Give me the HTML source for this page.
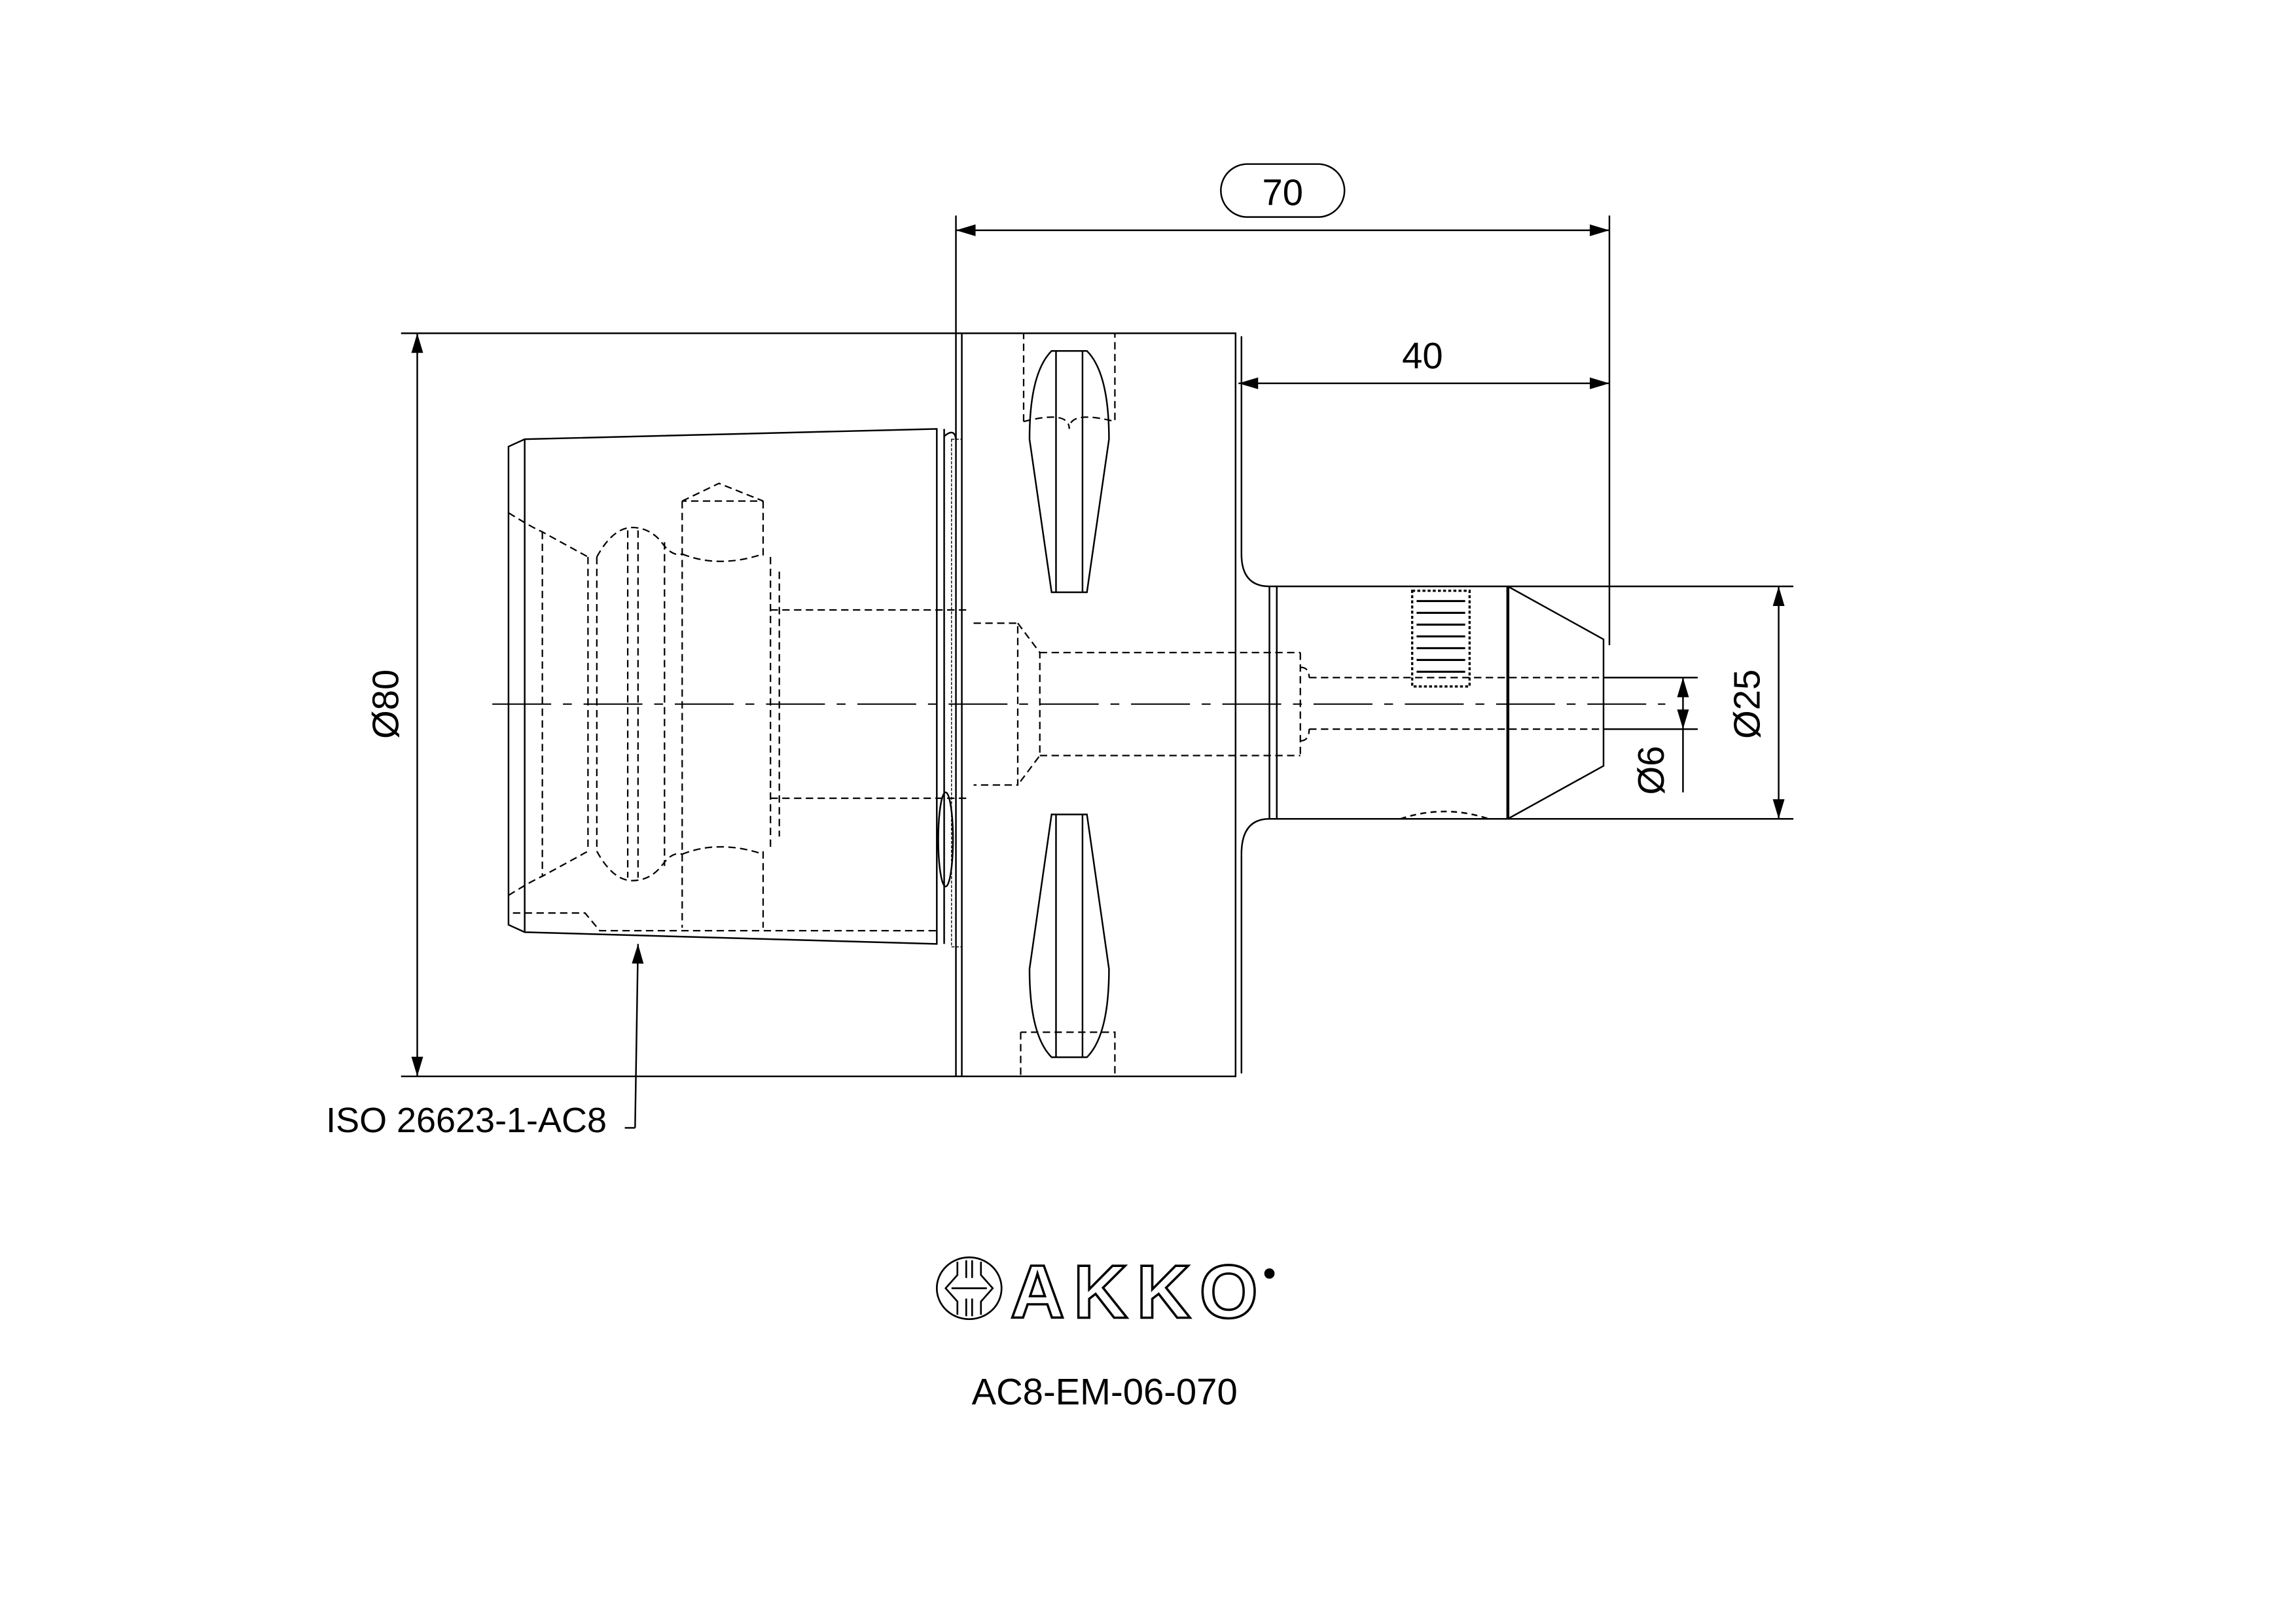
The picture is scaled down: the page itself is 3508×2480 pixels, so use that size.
<!DOCTYPE html>
<html><head><meta charset="utf-8"><style>html,body{margin:0;padding:0;background:#fff}svg{display:block}</style></head>
<body>
<svg width="3508" height="2480" viewBox="0 0 1560 1103" preserveAspectRatio="none" xmlns="http://www.w3.org/2000/svg">
<defs>
<marker id="a" viewBox="0 0 10 6" refX="10" refY="3" markerWidth="14" markerHeight="8" markerUnits="userSpaceOnUse" orient="auto-start-reverse"><path d="M0,0L10,3L0,6Z" fill="#000"/></marker>
</defs>
<rect width="1560" height="1103" fill="#fff"/>
<g transform="translate(-3.5,-1.5)">
<g fill="none" stroke="#000" stroke-width="1.1">
<line x1="653" y1="148" x2="653" y2="228"/>
<line x1="1097" y1="148" x2="1097" y2="440"/>
<line x1="653" y1="158" x2="1097" y2="158" marker-start="url(#a)" marker-end="url(#a)"/>
<rect x="833" y="113" width="84" height="36" rx="18"/>
<line x1="845" y1="262" x2="1097" y2="262" marker-start="url(#a)" marker-end="url(#a)"/>
<line x1="276" y1="228" x2="653" y2="228"/>
<line x1="276" y1="733" x2="653" y2="733"/>
<line x1="287" y1="228" x2="287" y2="733" marker-start="url(#a)" marker-end="url(#a)"/>
<path d="M653,228H843V733H653Z"/>
<line x1="657" y1="228" x2="657" y2="733"/>
<line x1="847" y1="230" x2="847" y2="378"/>
<line x1="847" y1="582" x2="847" y2="731"/>
<path d="M847,378Q847,400 866,400H1028L1093,436V522L1028,558H866Q847,558 847,582"/>
<line x1="866" y1="400" x2="866" y2="558"/>
<line x1="871" y1="400" x2="871" y2="558"/>
<line x1="1028" y1="400" x2="1028" y2="558" stroke-width="2"/>
<path d="M955,558Q985,548 1015,558" stroke-dasharray="4,3"/>
<line x1="1028" y1="400" x2="1222" y2="400"/>
<line x1="1028" y1="558" x2="1222" y2="558"/>
<line x1="1212" y1="400" x2="1212" y2="558" marker-start="url(#a)" marker-end="url(#a)"/>
<line x1="1093" y1="462" x2="1157" y2="462"/>
<line x1="1093" y1="497" x2="1157" y2="497"/>
<line x1="1147" y1="462" x2="1147" y2="497" marker-start="url(#a)" marker-end="url(#a)"/>
<line x1="1147" y1="497" x2="1147" y2="540"/>
<line x1="338" y1="480" x2="1135" y2="480" stroke-width="0.9" stroke-dasharray="40,8,6,8"/>
<path d="M360,300L640,293V643L360,635L349,630V305Z"/>
<line x1="360" y1="300" x2="360" y2="635"/>
<line x1="645" y1="293" x2="645" y2="643"/>
<path d="M645,298Q652,292 653,300"/>
<rect x="650" y="300" width="7" height="345" stroke-width="0.6" stroke-dasharray="2,1"/>
<ellipse cx="646" cy="572" rx="5" ry="32"/>
<path d="M718,240H742Q757,255 757,300L742,404H718L703,300Q703,255 718,240Z"/>
<line x1="721" y1="240" x2="721" y2="404"/><line x1="739" y1="240" x2="739" y2="404"/>
<path d="M718,720H742Q757,705 757,660L742,555H718L703,660Q703,705 718,720Z"/>
<line x1="721" y1="555" x2="721" y2="720"/><line x1="739" y1="555" x2="739" y2="720"/>
<rect x="963" y="403" width="39" height="65" stroke-dasharray="2,1.5" stroke-width="1.5"/>
<g stroke-width="1.4"><line x1="966" y1="410" x2="999" y2="410"/><line x1="966" y1="418" x2="999" y2="418"/><line x1="966" y1="426" x2="999" y2="426"/><line x1="966" y1="434" x2="999" y2="434"/><line x1="966" y1="442" x2="999" y2="442"/><line x1="966" y1="450" x2="999" y2="450"/><line x1="966" y1="458" x2="999" y2="458"/></g>
<line x1="437" y1="643" x2="435" y2="768" marker-start="url(#a)"/>
<line x1="435" y1="768" x2="428" y2="768"/>
</g>
<g fill="none" stroke="#000" stroke-width="1" stroke-dasharray="5,3">
<path d="M699,288V228H761V288"/>
<path d="M699,288Q730,280 730,293Q730,280 761,288"/>
<path d="M697,703V733H761V703H697"/>
<path d="M893,462H1093M893,497H1093M887,445V515M887,455Q893,455 893,462M887,505Q893,505 893,497"/>
<path d="M710,445H887M710,515H887M695,425L710,445V515L695,535M665,425H695V535H665"/>
<path d="M527,416H660M527,544H660M527,380V580M533,390V570M522,342V380M522,580V632"/>
<path d="M467,342V632M467,342L492,330L522,342H467"/>
<path d="M467,378Q492,388 522,378M467,582Q492,572 522,582"/>
<path d="M409,380Q420,360 433,360Q445,360 453,370Q460,380 467,378"/>
<path d="M409,580Q420,600 433,600Q445,600 453,590Q460,580 467,582"/>
<path d="M403,380V580M409,380V580M430,362V598M437,362V598M455,370V590"/>
<path d="M349,350Q365,360 372,363L403,380M349,610Q365,600 372,597L403,580"/>
<path d="M372,363V597"/>
<path d="M352,622H401L411,634H640"/>
</g>
<g font-family="Liberation Sans, sans-serif" fill="#000">
<text x="875" y="141" font-size="25" text-anchor="middle">70</text>
<text x="970" y="252" font-size="25" text-anchor="middle">40</text>
<text transform="translate(274,480) rotate(-90)" font-size="25" text-anchor="middle">Ø80</text>
<text transform="translate(1199,480) rotate(-90)" font-size="25" text-anchor="middle">Ø25</text>
<text transform="translate(1134,525) rotate(-90)" font-size="25" text-anchor="middle">Ø6</text>
<text x="225" y="771" font-size="24">ISO 26623-1-AC8</text>
<text x="754" y="956" font-size="25" text-anchor="middle">AC8-EM-06-070</text>
<text x="690" y="897" font-size="51" font-weight="bold" fill="#fff" stroke="#000" stroke-width="1.6" letter-spacing="6">AKKO</text>
</g>
<g fill="none" stroke="#000" stroke-width="1.2">
<ellipse cx="662" cy="877" rx="22" ry="21"/>
<path d="M654,859V868L646,877L654,886V895M670,859V868L678,877L670,886V895M660,858V870M664,858V870M660,884V896M664,884V896M650,877H674"/>
</g>
<circle cx="866" cy="867" r="3.5" fill="#000"/>
</g>
</svg>
</body></html>
